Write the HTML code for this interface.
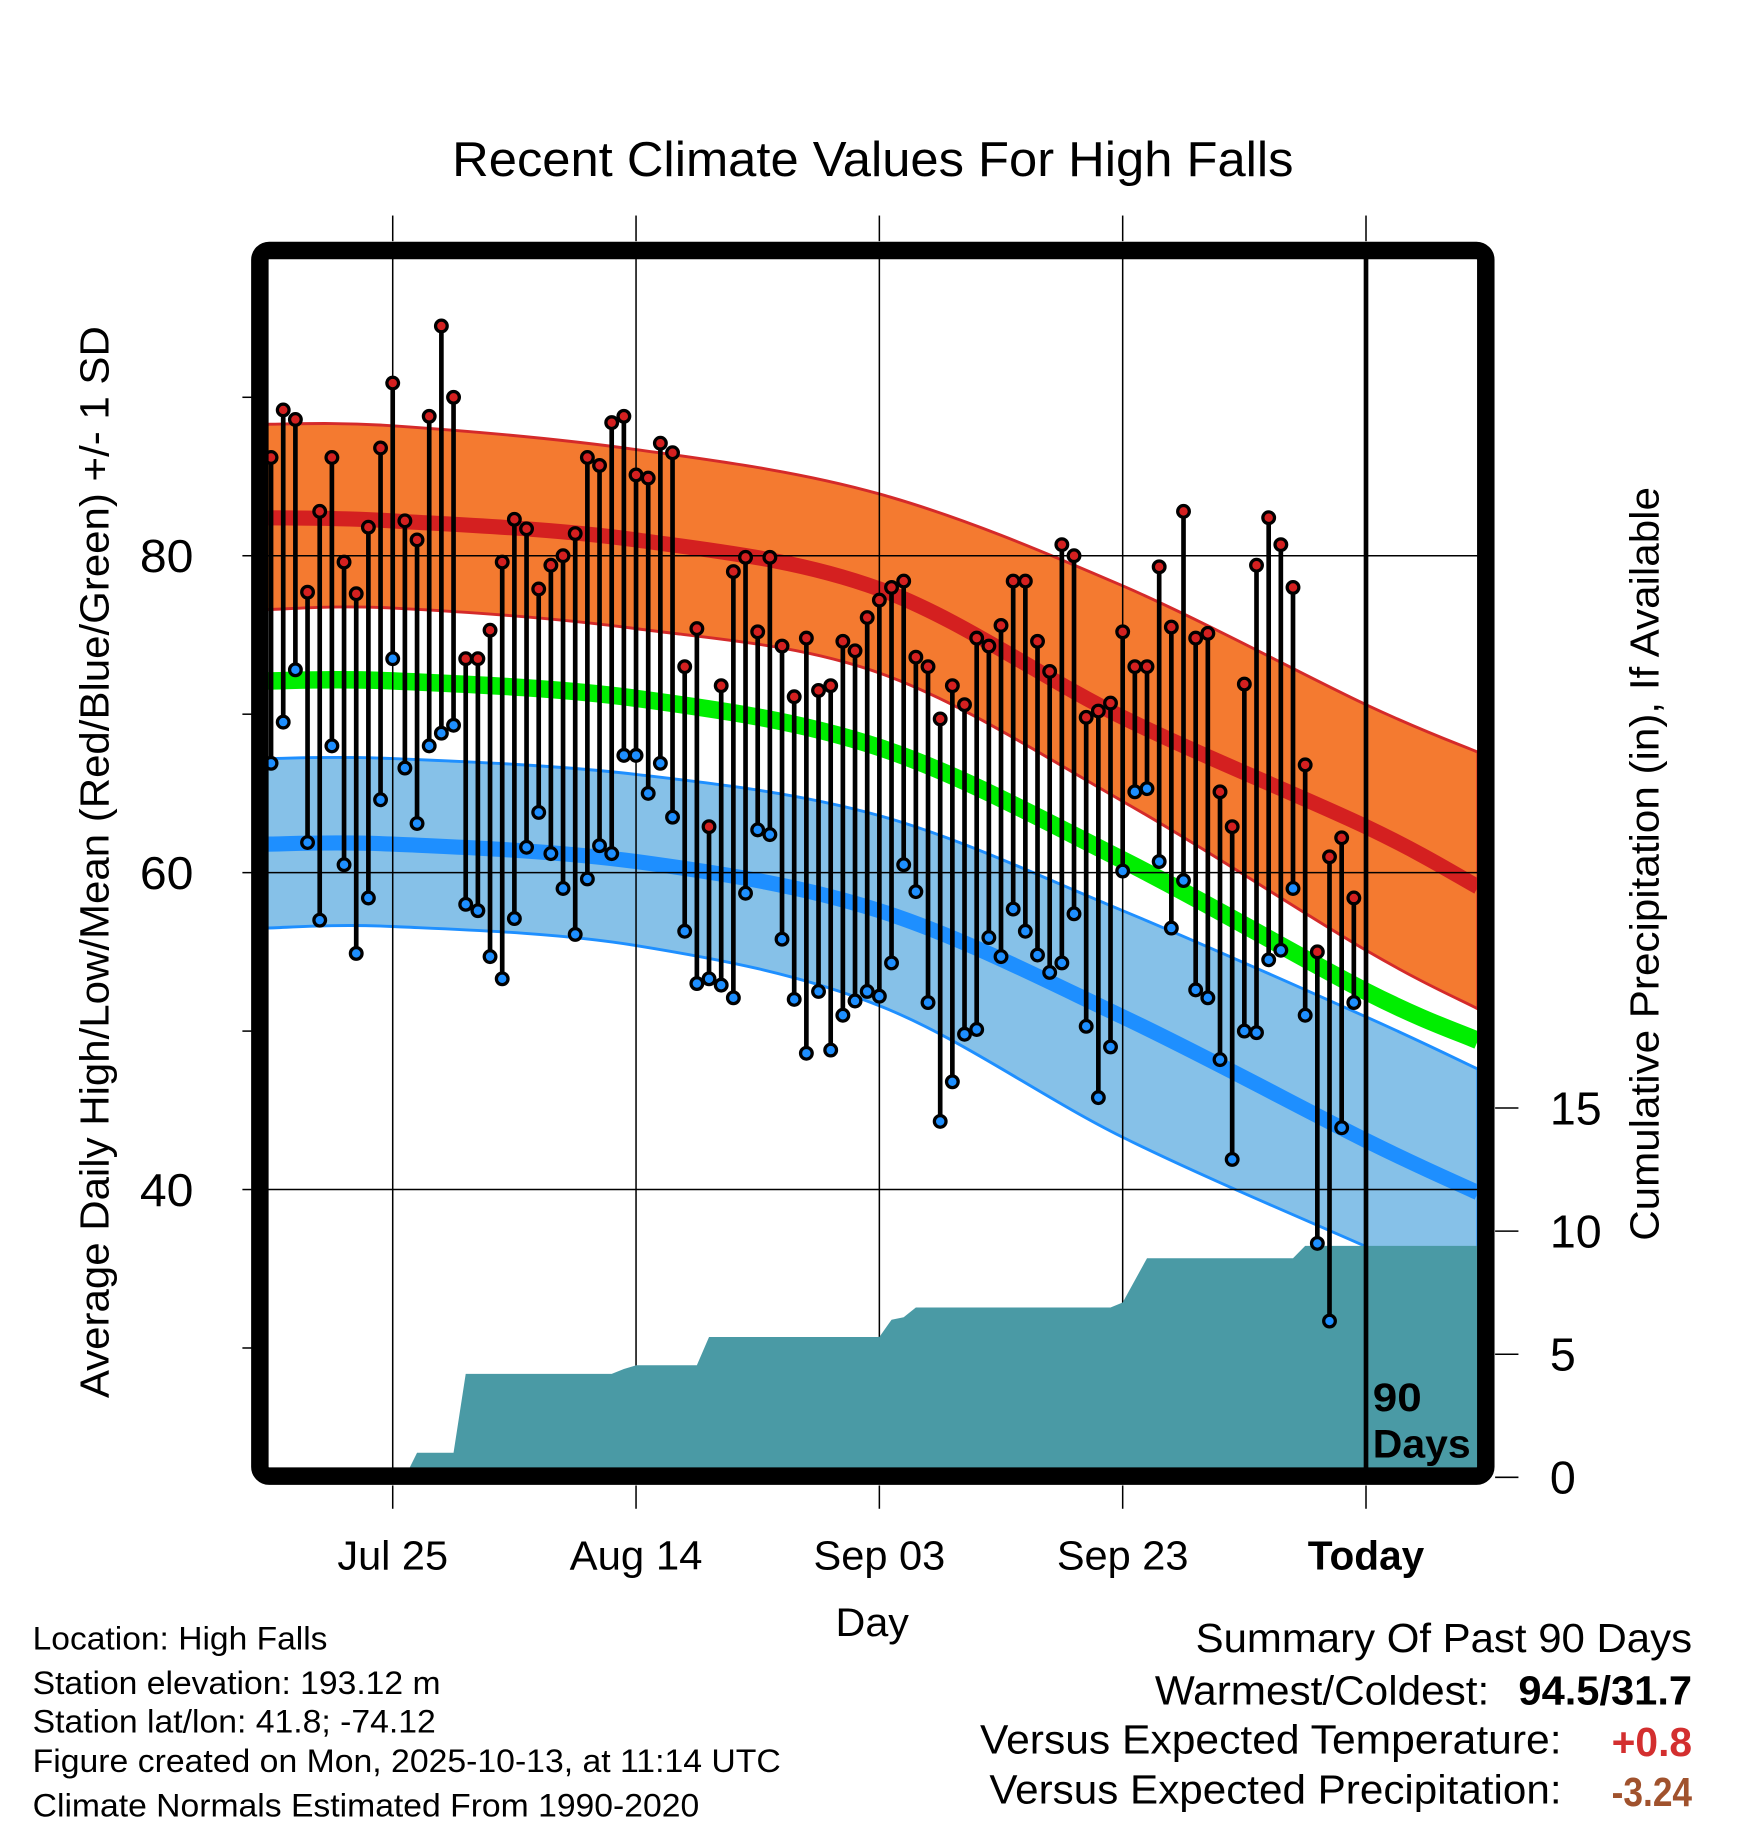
<!DOCTYPE html>
<html><head><meta charset="utf-8"><style>
html,body{margin:0;padding:0;background:#fff;}
svg{display:block;}
text{font-family:"Liberation Sans",sans-serif;fill:#000;}
</style></head><body>
<svg id="chart" width="1748" height="1828" viewBox="0 0 1500 1569" preserveAspectRatio="none" xmlns="http://www.w3.org/2000/svg">
<rect x="0" y="0" width="1500" height="1569" fill="#fff"/>
<text x="388" y="151" font-size="42" textLength="722" lengthAdjust="spacingAndGlyphs">Recent Climate Values For High Falls</text>
<g id="bands"></g>
<g id="grid"></g>
<g id="precip"></g>
<g id="marks"></g>
<rect x="223" y="215" width="1052" height="1052" rx="8" fill="none" stroke="#000" stroke-width="15"/>
<g id="axes"></g>
<text x="1178" y="1211" font-size="34" font-weight="bold" textLength="42" lengthAdjust="spacingAndGlyphs">90</text>
<text x="1178" y="1251" font-size="34" font-weight="bold" textLength="84" lengthAdjust="spacingAndGlyphs">Days</text>
<text transform="translate(93,1200) rotate(-90)" font-size="35" textLength="920" lengthAdjust="spacingAndGlyphs">Average Daily High/Low/Mean (Red/Blue/Green) +/- 1 SD</text>
<text transform="translate(1423,1065) rotate(-90)" font-size="35" textLength="647" lengthAdjust="spacingAndGlyphs">Cumulative Precipitation (in), If Available</text>
<text x="717" y="1404" font-size="34" textLength="63" lengthAdjust="spacingAndGlyphs">Day</text>
<g font-size="28">
<text x="28" y="1416" textLength="253" lengthAdjust="spacingAndGlyphs">Location: High Falls</text>
<text x="28" y="1454" textLength="350" lengthAdjust="spacingAndGlyphs">Station elevation: 193.12 m</text>
<text x="28" y="1487" textLength="346" lengthAdjust="spacingAndGlyphs">Station lat/lon: 41.8; -74.12</text>
<text x="28" y="1521" textLength="642" lengthAdjust="spacingAndGlyphs">Figure created on Mon, 2025-10-13, at 11:14 UTC</text>
<text x="28" y="1559" textLength="572" lengthAdjust="spacingAndGlyphs">Climate Normals Estimated From 1990-2020</text>
</g>
<g font-size="35">
<text x="1026" y="1418" textLength="426" lengthAdjust="spacingAndGlyphs">Summary Of Past 90 Days</text>
<text x="991" y="1463" textLength="287" lengthAdjust="spacingAndGlyphs">Warmest/Coldest:</text>
<text x="1303" y="1463" font-weight="bold" textLength="149" lengthAdjust="spacingAndGlyphs">94.5/31.7</text>
<text x="841" y="1505" textLength="499" lengthAdjust="spacingAndGlyphs">Versus Expected Temperature:</text>
<text x="1383" y="1507" font-weight="bold" textLength="69" lengthAdjust="spacingAndGlyphs" style="fill:#d32f2f">+0.8</text>
<text x="849" y="1548" textLength="491" lengthAdjust="spacingAndGlyphs">Versus Expected Precipitation:</text>
<text x="1383" y="1550" font-weight="bold" textLength="69" lengthAdjust="spacingAndGlyphs" style="fill:#a0522d">-3.24</text>
</g>
</svg>
<script>
// ---- data ----
const highs = [86.2,89.2,88.6,77.7,82.8,86.2,79.6,77.6,81.8,86.8,90.9,82.2,81.0,88.8,94.5,90.0,73.5,73.5,75.3,79.6,82.3,81.7,77.9,79.4,80.0,81.4,86.2,85.7,88.4,88.8,85.1,84.9,87.1,86.5,73.0,75.4,62.9,71.8,79.0,79.9,75.2,79.9,74.3,71.1,74.8,71.5,71.8,74.6,74.0,76.1,77.2,78.0,78.4,73.6,73.0,69.7,71.8,70.6,74.8,74.3,75.6,78.4,78.4,74.6,72.7,80.7,80.0,69.8,70.2,70.7,75.2,73.0,73.0,79.3,75.5,82.8,74.8,75.1,65.1,62.9,71.9,79.4,82.4,80.7,78.0,66.8,55.0,61.0,62.2,58.4];
const lows = [66.9,69.5,72.8,61.9,57.0,68.0,60.5,54.9,58.4,64.6,73.5,66.6,63.1,68.0,68.8,69.3,58.0,57.6,54.7,53.3,57.1,61.6,63.8,61.2,59.0,56.1,59.6,61.7,61.2,67.4,67.4,65.0,66.9,63.5,56.3,53.0,53.3,52.9,52.1,58.7,62.7,62.4,55.8,52.0,48.6,52.5,48.8,51.0,51.9,52.5,52.2,54.3,60.5,58.8,51.8,44.3,46.8,49.8,50.1,55.9,54.7,57.7,56.3,54.8,53.7,54.3,57.4,50.3,45.8,49.0,60.1,65.1,65.3,60.7,56.5,59.5,52.6,52.1,48.2,41.9,50.0,49.9,54.5,55.1,59.0,51.0,36.6,31.7,43.9,51.8];
const precip = [0,0,0,0,0,0,0,0,0,0,0,0,1.0,1.0,1.0,1.0,4.2,4.2,4.2,4.2,4.2,4.2,4.2,4.2,4.2,4.2,4.2,4.2,4.2,4.4,4.55,4.55,4.55,4.55,4.55,4.55,5.7,5.7,5.7,5.7,5.7,5.7,5.7,5.7,5.7,5.7,5.7,5.7,5.7,5.7,5.7,6.4,6.5,6.9,6.9,6.9,6.9,6.9,6.9,6.9,6.9,6.9,6.9,6.9,6.9,6.9,6.9,6.9,6.9,6.9,7.1,8.0,8.9,8.9,8.9,8.9,8.9,8.9,8.9,8.9,8.9,8.9,8.9,8.9,8.9,9.4,9.4,9.4,9.4,9.4];
const normDays = [-10.5,0,20,40,60,80,89.2];
const highMean = [82.4,82.2,81.0,77.9,69.8,62.9,59.1];
const highUpper = [88.3,88.2,86.7,83.9,78.1,70.6,67.6];
const highLower = [76.6,76.7,75.4,72.6,64.5,55.1,51.4];
const avgMean = [72.1,72.1,71.0,67.9,60.8,52.5,49.4];
const lowMean = [61.8,61.8,60.7,57.6,50.9,43.1,39.8];
const lowUpper = [67.2,67.2,66.2,63.6,57.6,50.9,47.6];
const lowLower = [56.5,56.6,55.4,51.6,43.3,36.4,33.3];
const xTickLabels = ["Jul 25","Aug 14","Sep 03","Sep 23","Today"];
const xTickDays = [0,20,40,60,80];
const yTicks = [30,40,50,60,70,80,90];
const yLabels = [40,60,80];
const pTicks = [0,5,10,15];
// ---- scales ----
const firstDay = -10;
const X = d => 337 + 10.44*d;
const Y = t => 477 - (t-80)*13.6;
const P = p => 1268 - p*21.13;
const NS = "http://www.w3.org/2000/svg";
function mk(tag, parent, attrs){const e=document.createElementNS(NS,tag);for(const k in attrs)e.setAttribute(k,attrs[k]);parent.appendChild(e);return e;}
function smooth(pts){
  let d = "M"+pts[0][0]+","+pts[0][1];
  for(let i=0;i<pts.length-1;i++){
    const p0=pts[Math.max(0,i-1)],p1=pts[i],p2=pts[i+1],p3=pts[Math.min(pts.length-1,i+2)];
    const c1=[p1[0]+(p2[0]-p0[0])/6,p1[1]+(p2[1]-p0[1])/6];
    const c2=[p2[0]-(p3[0]-p1[0])/6,p2[1]-(p3[1]-p1[1])/6];
    d+=" C"+c1[0]+","+c1[1]+" "+c2[0]+","+c2[1]+" "+p2[0]+","+p2[1];
  }
  return d;
}
function curve(arr){return normDays.map((d,i)=>[X(d),Y(arr[i])]);}
function bandPath(up,lo){
  const u=curve(up), l=curve(lo).reverse();
  let d=smooth(u); const ls=smooth(l); d+=" L"+ls.slice(1); return d+" Z";
}
const bands=document.getElementById('bands');
let e;
e=mk('path',bands,{d:bandPath(highUpper,highLower),fill:'#f47a30',stroke:'#d42a2a','stroke-width':2.5});


e=mk('path',bands,{d:bandPath(lowUpper,lowLower),fill:'#86c1e8',stroke:'#1e8fff','stroke-width':2.5});


e=mk('path',bands,{d:smooth(curve(highMean)),fill:'none',stroke:'#d42020','stroke-width':13});


e=mk('path',bands,{d:smooth(curve(avgMean)),fill:'none',stroke:'#00ee00','stroke-width':15});


e=mk('path',bands,{d:smooth(curve(lowMean)),fill:'none',stroke:'#1e8fff','stroke-width':13});


// precip area
const pg=document.getElementById('precip');
let pd="M"+X(firstDay-0.2)+","+P(0);
precip.forEach((v,i)=>{pd+=" L"+X(firstDay+i)+","+P(v);});
pd+=" L1268,"+P(precip[precip.length-1])+" L1268,"+P(0)+" Z";
e=mk('path',pg,{d:pd,fill:'#4a9aa5'});


// grid
const grid=document.getElementById('grid');
yLabels.forEach(t=>{
  e=mk('line',grid,{x1:230,x2:1268,y1:Y(t),y2:Y(t),stroke:'#000','stroke-width':1.3});
  
  
});
xTickDays.forEach((d,i)=>{
  if(i===xTickDays.length-1)return;
  e=mk('line',grid,{x1:X(d),x2:X(d),y1:222,y2:1260,stroke:'#000','stroke-width':1.3});
  
  
});
// marks
const mg=document.getElementById('marks');
highs.forEach((h,i)=>{
  const x=X(firstDay+i);
  e=mk('line',mg,{x1:x,x2:x,y1:Y(h),y2:Y(lows[i]),stroke:'#000','stroke-width':4});
  
  
});
highs.forEach((h,i)=>{
  const x=X(firstDay+i);
  e=mk('circle',mg,{cx:x,cy:Y(h),r:5,fill:'#d42020',stroke:'#000','stroke-width':2.8});
  
  
  e=mk('circle',mg,{cx:x,cy:Y(lows[i]),r:5,fill:'#1e8fff',stroke:'#000','stroke-width':2.8});
  
  
});
e=mk('line',mg,{x1:X(80),x2:X(80),y1:222,y2:1262,stroke:'#000','stroke-width':4});


// axes
const ax=document.getElementById('axes');
yTicks.forEach(t=>{
  e=mk('line',ax,{x1:208,x2:216,y1:Y(t),y2:Y(t),stroke:'#000','stroke-width':1.3});
  
  
});
yLabels.forEach(t=>{
  e=mk('text',ax,{x:120,y:Y(t)+14,'font-size':40,textLength:46,lengthAdjust:'spacingAndGlyphs'});
  e.textContent=t;
  
  
});
pTicks.forEach(p=>{
  e=mk('line',ax,{x1:1283,x2:1303,y1:P(p),y2:P(p),stroke:'#000','stroke-width':1.3});
  
  
  e=mk('text',ax,{x:1330,y:P(p)+14,'font-size':40});
  e.textContent=p;
  
  
});
const xLabelWidths=[95,114,113,113,100];
xTickDays.forEach((d,i)=>{
  e=mk('line',ax,{x1:X(d),x2:X(d),y1:185,y2:207,stroke:'#000','stroke-width':1.3});
  
  
  e=mk('line',ax,{x1:X(d),x2:X(d),y1:1275,y2:1295,stroke:'#000','stroke-width':1.3});
  
  
  e=mk('text',ax,{x:X(d)-xLabelWidths[i]/2,y:1347,'font-size':35,textLength:xLabelWidths[i],lengthAdjust:'spacingAndGlyphs'});
  if(i===xTickDays.length-1)e.setAttribute('font-weight','bold');
  e.textContent=xTickLabels[i];
  
  
});
</script>
</body></html>
